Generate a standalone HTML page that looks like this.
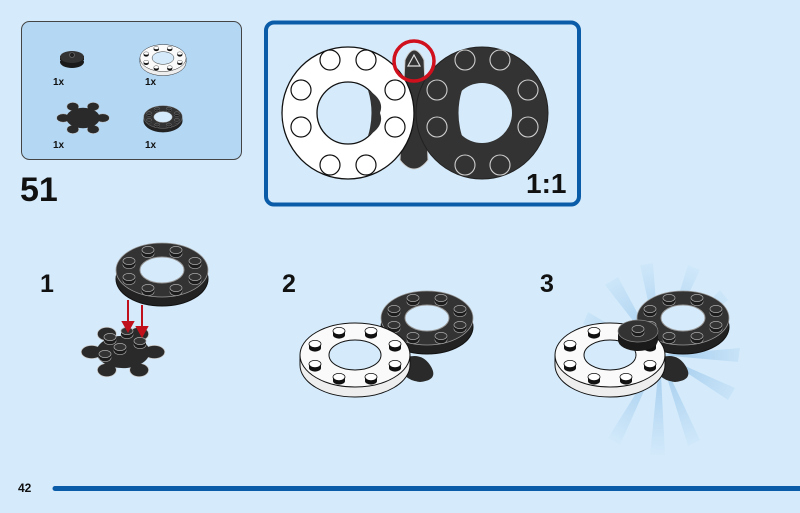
<!DOCTYPE html>
<html><head><meta charset="utf-8"><style>
html,body{margin:0;padding:0;background:#d5ebfb;}
svg{display:block}
text{font-family:"Liberation Sans",sans-serif;font-weight:bold;fill:#111}
</style></head><body>
<svg width="800" height="513" viewBox="0 0 800 513" xmlns="http://www.w3.org/2000/svg">
<defs>
<radialGradient id="rg" cx="660" cy="355" r="105" gradientUnits="userSpaceOnUse">
<stop offset="0.3" stop-color="#9cc8ec" stop-opacity="0.9"/><stop offset="1" stop-color="#9cc8ec" stop-opacity="0"/></radialGradient>
<g id="ds"><ellipse cx="0" cy="3" rx="6" ry="3.6" fill="#1c1c1c" stroke="#999" stroke-width="0.7"/><rect x="-6" y="-1" width="12" height="4" fill="#1c1c1c"/><ellipse cx="0" cy="-1" rx="6" ry="3.6" fill="#333" stroke="#aaa" stroke-width="0.7"/></g>
<g id="ws"><ellipse cx="0" cy="3" rx="6" ry="3.6" fill="#111"/><rect x="-6" y="-1" width="12" height="4" fill="#111"/><ellipse cx="0" cy="-1" rx="6" ry="3.6" fill="#fff" stroke="#111" stroke-width="0.8"/></g>
<g id="dring">
<ellipse cx="0" cy="9" rx="46" ry="27" fill="#222" stroke="#111"/>
<rect x="-46" y="0" width="92" height="9" fill="#222"/>
<ellipse cx="0" cy="0" rx="46" ry="27" fill="#333" stroke="#999" stroke-width="0.8"/>
<ellipse cx="0" cy="0" rx="22" ry="13" fill="#d5ebfb" stroke="#999"/>
<use href="#ds" x="33" y="8"/><use href="#ds" x="14" y="19"/><use href="#ds" x="-14" y="19"/><use href="#ds" x="-33" y="8"/>
<use href="#ds" x="-33" y="-8"/><use href="#ds" x="-14" y="-19"/><use href="#ds" x="14" y="-19"/><use href="#ds" x="33" y="-8"/>
</g>
<g id="wring">
<ellipse cx="0" cy="10" rx="55" ry="32" fill="#eee" stroke="#111"/>
<rect x="-55" y="0" width="110" height="10" fill="#eee"/>
<line x1="-55" y1="0" x2="-55" y2="10" stroke="#111"/><line x1="55" y1="0" x2="55" y2="10" stroke="#111"/>
<ellipse cx="0" cy="0" rx="55" ry="32" fill="#fafafa" stroke="#111"/>
<ellipse cx="0" cy="0" rx="26" ry="15" fill="#d5ebfb" stroke="#111"/>
<use href="#ws" x="40" y="10"/><use href="#ws" x="16" y="23"/><use href="#ws" x="-16" y="23"/><use href="#ws" x="-40" y="10"/>
<use href="#ws" x="-40" y="-10"/><use href="#ws" x="-16" y="-23"/><use href="#ws" x="16" y="-23"/><use href="#ws" x="40" y="-10"/>
</g>
<g id="gear">
<g fill="#2a2a2a" stroke="#ccc" stroke-width="0.8">
<ellipse cx="-33" cy="0" rx="11" ry="7"/><ellipse cx="33" cy="0" rx="11" ry="7"/>
<ellipse cx="-17" cy="-19" rx="10" ry="7"/><ellipse cx="17" cy="-19" rx="10" ry="7"/>
<ellipse cx="-17" cy="19" rx="10" ry="7"/><ellipse cx="17" cy="19" rx="10" ry="7"/>
<ellipse cx="0" cy="0" rx="28" ry="17" stroke="none"/>
</g></g>
</defs>

<!-- parts box -->
<rect x="21.5" y="21.5" width="220" height="138" rx="8" fill="#b4d7f3" stroke="#444" stroke-width="1"/>
<ellipse cx="72" cy="62" rx="12" ry="6" fill="#1a1a1a"/><rect x="60" y="56" width="24" height="4" fill="#1a1a1a"/><ellipse cx="72" cy="57" rx="12" ry="6" fill="#333"/><circle cx="72" cy="55" r="2.5" fill="#222" stroke="#777" stroke-width="0.6"/>
<g transform="translate(163,58) scale(0.42)"><use href="#wring"/></g>
<g transform="translate(83,118) scale(0.6)"><use href="#gear"/></g>
<g transform="translate(163,117) scale(0.42)"><use href="#dring"/></g>
<text x="53" y="85" font-size="10">1x</text><text x="145" y="85" font-size="10">1x</text>
<text x="53" y="148" font-size="10">1x</text><text x="145" y="148" font-size="10">1x</text>
<text x="20" y="201" font-size="34">51</text>

<!-- 1:1 box -->
<rect x="266" y="22.5" width="313" height="182" rx="8" fill="#d5ebfb" stroke="#0b5ca8" stroke-width="4"/>
<path d="M405 60 Q414 40 424 60 L428 160 Q414 178 400 160 Z" fill="#333" stroke="#ccc" stroke-width="1"/>
<circle cx="348" cy="113" r="66" fill="#fff" stroke="#111" stroke-width="1.3"/>
<circle cx="348" cy="113" r="31" fill="#d5ebfb" stroke="#111" stroke-width="1.3"/>
<path d="M368 90 Q385 100 380 113 Q385 126 368 136 Q375 113 368 90Z" fill="#333"/>
<g fill="#fff" stroke="#111" stroke-width="1.2">
<circle cx="301" cy="90" r="10"/><circle cx="301" cy="127" r="10"/><circle cx="395" cy="90" r="10"/><circle cx="395" cy="127" r="10"/>
<circle cx="330" cy="60" r="10"/><circle cx="366" cy="60" r="10"/><circle cx="330" cy="165" r="10"/><circle cx="366" cy="165" r="10"/>
</g>
<circle cx="482" cy="113" r="66" fill="#333" stroke="#222"/>
<circle cx="482" cy="113" r="30" fill="#d5ebfb"/>
<path d="M462 90 Q445 100 450 113 Q445 126 462 136 Q455 113 462 90Z" fill="#333"/>
<g fill="none" stroke="#ccc" stroke-width="1.1">
<circle cx="437" cy="90" r="10"/><circle cx="437" cy="127" r="10"/><circle cx="528" cy="90" r="10"/><circle cx="528" cy="127" r="10"/>
<circle cx="465" cy="60" r="10"/><circle cx="500" cy="60" r="10"/><circle cx="465" cy="165" r="10"/><circle cx="500" cy="165" r="10"/>
</g>
<path d="M414 55 L420 66 L408 66 Z" fill="none" stroke="#ddd" stroke-width="1.2"/>
<circle cx="414" cy="61" r="20" fill="none" stroke="#d0101c" stroke-width="3.5"/>
<text x="526" y="193" font-size="28">1:1</text>

<!-- step numbers -->
<text x="40" y="292" font-size="25">1</text>
<text x="282" y="292" font-size="25">2</text>
<text x="540" y="292" font-size="25">3</text>

<!-- step 1 -->
<g transform="translate(123,352) scale(0.95)"><use href="#gear"/></g>
<use href="#ds" x="110" y="338"/><use href="#ds" x="127" y="332"/><use href="#ds" x="120" y="348"/><use href="#ds" x="140" y="342"/><use href="#ds" x="105" y="355"/>
<use href="#dring" x="162" y="270"/>
<g stroke="#c0101c" stroke-width="2" fill="#c0101c">
<line x1="128" y1="300" x2="128" y2="326"/><path d="M123 322 L133 322 L128 331 Z"/>
<line x1="142" y1="305" x2="142" y2="332"/><path d="M137 327 L147 327 L142 336 Z"/>
</g>

<!-- step 2 -->
<path d="M400 360 Q420 350 430 365 Q440 380 420 382 Q400 380 400 360Z" fill="#2a2a2a"/>
<use href="#dring" x="427" y="318"/>
<use href="#wring" x="355" y="355"/>

<!-- step 3 rays -->
<g fill="url(#rg)" opacity="0.75">
<path d="M660 355 L605 285 L618 277 Z"/><path d="M660 355 L640 265 L653 263 Z"/><path d="M660 355 L688 265 L700 270 Z"/>
<path d="M660 355 L588 312 L583 324 Z"/><path d="M660 355 L735 388 L728 400 Z"/><path d="M660 355 L700 440 L688 446 Z"/>
<path d="M660 355 L665 455 L650 455 Z"/><path d="M660 355 L620 445 L608 438 Z"/><path d="M660 355 L740 348 L738 362 Z"/>
<path d="M660 355 L720 290 L728 300 Z"/>
</g>
<path d="M655 360 Q675 350 685 365 Q695 380 675 382 Q655 380 655 360Z" fill="#2a2a2a"/>
<use href="#dring" x="683" y="318"/>
<use href="#wring" x="610" y="355"/>
<ellipse cx="638" cy="340" rx="20" ry="11" fill="#1a1a1a"/><rect x="618" y="331" width="40" height="9" fill="#1a1a1a"/>
<ellipse cx="638" cy="331" rx="20" ry="11" fill="#333" stroke="#888" stroke-width="0.7"/>
<use href="#ds" x="638" y="330"/>

<!-- footer -->
<text x="18" y="492" font-size="12">42</text>
<line x1="55" y1="488.5" x2="800" y2="488.5" stroke="#0b5ca8" stroke-width="5" stroke-linecap="round"/>
</svg>
</body></html>
